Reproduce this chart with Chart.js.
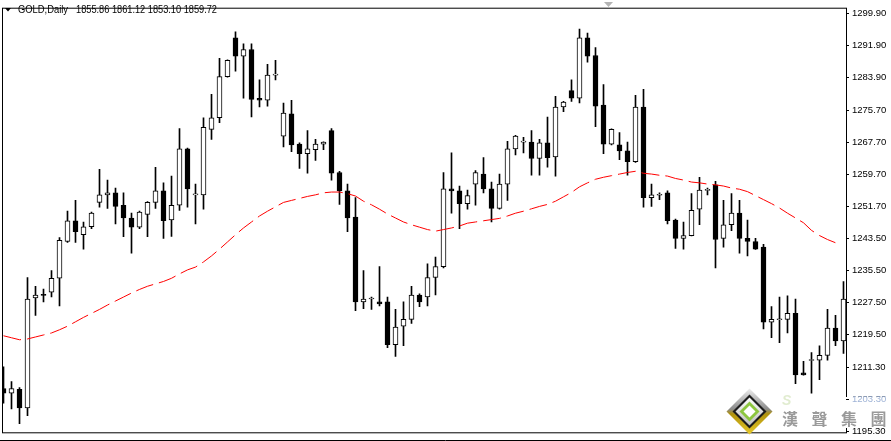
<!DOCTYPE html>
<html>
<head>
<meta charset="utf-8">
<script src="https://cdn.jsdelivr.net/npm/chart.js@4.4.0/dist/chart.umd.min.js"></script>
<style>
  html, body { margin: 0; padding: 0; background: #fff; overflow: hidden; }
  canvas { display: block; }
</style>
</head>
<body>
<canvas id="chart" width="891" height="441"></canvas>
<script>
// -- DATA (GOLD, Daily)
const opens = [
  1206.0,1204.8,1205.8,1201.1,1228.7,1229.5,1230.1,1233.6,1242.8,1248.0,
  1244.5,1246.5,1252.6,1254.5,1255.0,1251.9,1248.7,1246.4,1249.6,1252.6,
  1255.5,1248.2,1251.9,1266.0,1254.5,1254.5,1270.9,1273.8,1284.1,1293.8,
  1289.2,1290.9,1278.7,1278.2,1284.5,1269.2,1274.8,1267.2,1264.8,1265.8,
  1267.2,1270.6,1260.1,1255.5,1248.9,1227.7,1228.4,1227.7,1227.7,1217.0,
  1221.6,1223.3,1229.4,1228.9,1233.8,1236.5,1256.0,1255.5,1252.3,1257.2,
  1259.7,1256.0,1251.1,1257.2,1266.0,1267.7,1267.7,1263.6,1267.5,1264.0,
  1276.5,1280.6,1278.7,1293.8,1289.4,1277.0,1267.2,1267.0,1265.5,1262.8,
  1276.5,1253.8,1254.4,1255.0,1248.2,1243.6,1244.3,1250.9,1255.6,1257.0,
  1243.6,1247.0,1249.9,1243.6,1242.8,1241.4,1222.6,1223.2,1223.3,1224.8,
  1209.9,1213.0,1213.1,1214.3,1221.1,1217.9
];
const highs = [
  1211.4,1207.7,1206.2,1233.8,1231.6,1230.9,1235.5,1243.8,1250.4,1253.1,
  1247.7,1250.2,1260.9,1258.2,1256.2,1255.0,1249.9,1250.4,1252.8,1261.4,
  1257.5,1259.2,1271.1,1266.2,1257.2,1273.8,1279.7,1288.7,1288.3,1295.3,
  1292.3,1292.3,1283.3,1287.2,1288.2,1277.5,1278.2,1267.5,1270.6,1268.4,
  1267.8,1271.1,1260.4,1257.2,1253.8,1235.5,1228.9,1236.5,1228.9,1225.8,
  1227.7,1231.6,1229.7,1237.2,1238.9,1260.1,1265.0,1256.7,1255.7,1260.6,
  1263.8,1257.7,1259.7,1267.9,1269.4,1268.9,1270.6,1268.4,1274.0,1279.2,
  1277.9,1283.3,1296.0,1295.0,1291.4,1282.1,1271.0,1270.1,1267.7,1279.4,
  1280.9,1257.2,1255.0,1255.5,1248.4,1247.7,1254.8,1258.9,1256.2,1257.9,
  1253.1,1254.8,1253.1,1248.2,1243.6,1242.1,1226.5,1228.9,1229.2,1228.4,
  1212.8,1215.0,1216.7,1225.8,1224.3,1232.8
];
const lows = [
  1202.3,1200.9,1197.2,1199.2,1224.3,1227.7,1228.9,1226.7,1242.6,1242.6,
  1240.9,1246.0,1251.4,1251.1,1247.2,1244.0,1239.9,1246.0,1244.0,1251.1,
  1243.6,1244.1,1250.6,1251.4,1247.2,1250.9,1268.4,1272.6,1284.0,1285.5,
  1278.7,1274.0,1276.5,1276.7,1283.3,1266.5,1265.3,1261.1,1259.9,1263.1,
  1265.8,1258.2,1252.1,1245.3,1225.5,1226.0,1225.8,1226.7,1216.2,1214.0,
  1216.7,1222.3,1226.5,1226.7,1229.4,1236.2,1249.9,1246.0,1250.9,1251.9,
  1255.0,1247.7,1250.9,1253.1,1264.5,1265.0,1259.4,1259.4,1261.4,1259.2,
  1275.3,1277.9,1277.5,1287.7,1271.6,1264.8,1267.0,1263.3,1259.4,1262.6,
  1251.4,1251.6,1253.3,1247.2,1241.1,1240.9,1244.2,1247.0,1254.5,1236.2,
  1241.4,1245.5,1239.9,1239.2,1240.8,1220.9,1218.7,1217.5,1219.9,1207.2,
  1209.3,1204.8,1208.2,1213.1,1216.7,1214.8
];
const closes = [
  1204.8,1206.0,1201.1,1228.4,1229.4,1229.3,1233.6,1243.1,1248.0,1245.3,
  1246.5,1249.9,1254.5,1255.0,1251.6,1248.7,1246.4,1250.2,1252.6,1255.5,
  1248.0,1251.9,1266.0,1256.0,1254.6,1271.4,1273.8,1284.1,1288.2,1289.2,
  1290.9,1278.4,1278.2,1284.5,1284.6,1275.0,1267.0,1264.8,1266.0,1267.2,
  1267.7,1259.9,1255.5,1248.7,1227.7,1228.4,1228.5,1227.2,1217.0,1221.4,
  1223.3,1229.4,1227.7,1233.8,1236.5,1256.0,1255.5,1252.3,1254.3,1260.1,
  1256.0,1251.1,1257.2,1266.0,1269.2,1267.8,1263.6,1267.5,1263.8,1276.5,
  1277.7,1278.7,1293.8,1289.2,1276.7,1267.2,1270.9,1265.5,1262.8,1276.5,
  1253.8,1254.5,1254.5,1248.0,1243.6,1244.3,1250.6,1255.7,1255.7,1243.3,
  1247.0,1249.9,1243.6,1242.8,1240.9,1222.6,1223.3,1223.4,1224.8,1209.4,
  1209.4,1213.1,1214.3,1221.1,1217.9,1228.4
];
// moving average (red dashed)
const maValues = [
  1219.2,1218.7,1218.2,1218.4,1218.9,1219.4,1219.9,1220.7,1221.6,1222.7,
  1223.8,1224.8,1225.8,1226.9,1227.9,1228.9,1229.9,1230.8,1231.6,1232.2,
  1232.8,1233.6,1234.7,1235.7,1236.4,1237.7,1239.2,1240.9,1242.7,1244.5,
  1246.2,1247.7,1249.2,1250.4,1251.5,1252.6,1253.1,1253.6,1254.1,1254.5,
  1255.0,1255.2,1255.2,1254.8,1254.2,1252.9,1252.0,1250.9,1249.7,1248.7,
  1247.7,1247.0,1246.4,1245.8,1245.4,1245.8,1246.2,1246.7,1247.4,1247.7,
  1248.0,1248.3,1248.6,1249.2,1249.9,1250.4,1251.0,1251.6,1252.1,1252.9,
  1254.0,1255.1,1256.5,1257.5,1258.4,1258.9,1259.3,1259.7,1260.1,1260.4,
  1259.9,1259.7,1259.4,1259.2,1258.6,1258.2,1257.7,1257.5,1257.2,1257.0,
  1256.7,1256.2,1255.9,1255.3,1254.3,1253.3,1252.3,1251.2,1249.9,1248.7,
  1247.5,1245.6,1244.3,1243.3,1242.5,null
];
const tickValues = [1299.90,1291.90,1283.90,1275.70,1267.70,1259.70,1251.70,
                    1243.50,1235.50,1227.50,1219.50,1211.30,1203.30,1195.30];
const hiddenTick = 1203.30;   // sits under the watermark
const headerName = 'GOLD,Daily';
const headerQuote = '1855.86 1861.12 1853.10 1859.72';
const watermark = ['漢','聲','集','團'];

// -- BUILD DATASETS
const isUp = closes.map((c, i) => c >= opens[i]);
const wickData = highs.map((h, i) => ({ x: i, y: [lows[i], h] }));
const bodyData = opens.map((o, i) => ({ x: i, y: [Math.min(o, closes[i]), Math.max(o, closes[i])] }));
const maData   = maValues.map((v, i) => ({ x: i, y: v }));

// -- DECOR (frame, header, watermark)
function diamond(c, cx, cy, r, fill) {
  c.beginPath();
  c.moveTo(cx, cy - r); c.lineTo(cx + r, cy); c.lineTo(cx, cy + r); c.lineTo(cx - r, cy);
  c.closePath(); c.fillStyle = fill; c.fill();
}

const decor = {
  id: 'decor',
  beforeDraw(chart) {
    const c = chart.ctx;
    c.save(); c.fillStyle = '#fff'; c.fillRect(0, 0, chart.width, chart.height); c.restore();
  },
  afterDraw(chart) {
    const c = chart.ctx, a = chart.chartArea;
    const yS = chart.scales.y;
    c.save();
    // frame
    c.strokeStyle = '#000'; c.lineWidth = 1;
    c.strokeRect(a.left - 0.5, a.top - 0.5, a.right - a.left + 1, a.bottom - a.top + 1);
    c.beginPath(); c.moveTo(0, 440.5); c.lineTo(chart.width, 440.5); c.stroke();

    // header
    c.fillStyle = '#000';
    c.beginPath(); c.moveTo(5, 8); c.lineTo(11, 8); c.lineTo(8, 11.5); c.closePath(); c.fill();
    c.font = '10px "Liberation Sans"'; c.textBaseline = 'middle'; c.textAlign = 'left';
    c.fillText(headerName, 18, 10, 50);
    c.fillText(headerQuote, 76, 10, 141);

    // grey marker on top
    c.fillStyle = '#b4b4b4';
    c.beginPath(); c.moveTo(604, 2); c.lineTo(613, 2); c.lineTo(608.5, 7); c.closePath(); c.fill();

    // watermark box (white) covers the chart corner
    c.fillStyle = '#ffffff';
    c.fillRect(776, 397, chart.width - 776, 31);
    // faint label under the watermark
    const ty = yS.getPixelForValue(hiddenTick);
    c.strokeStyle = '#000';
    c.beginPath(); c.moveTo(846, Math.round(ty) + 0.5); c.lineTo(849, Math.round(ty) + 0.5); c.stroke();
    c.fillStyle = '#9fb3d6';
    c.font = '9.5px "Liberation Sans"';
    c.fillText(hiddenTick.toFixed(2), 852, ty);

    // logo
    const cx = 749.5, cy = 411.5;
    const g = c.createLinearGradient(0, cy - 23, 0, cy + 23);
    g.addColorStop(0, '#eeeeee'); g.addColorStop(0.45, '#8a8a8a');
    g.addColorStop(0.55, '#b0920c'); g.addColorStop(1, '#e6c82a');
    diamond(c, cx, cy, 23, g);
    diamond(c, cx, cy, 17, '#1c1c1c');
    const g2 = c.createLinearGradient(0, cy - 14, 0, cy + 14);
    g2.addColorStop(0, '#ffffff'); g2.addColorStop(1, '#bdbdbd');
    diamond(c, cx, cy, 14, g2);
    diamond(c, cx, cy, 10, '#8dc63f');
    diamond(c, cx, cy, 6, '#ffffff');

    // watermark text
    c.fillStyle = 'rgba(170,200,120,0.35)';
    c.font = 'italic bold 14px "Liberation Sans"';
    c.fillText('S', 782, 401);
    c.fillStyle = '#9a9a9a';
    c.font = 'bold 16px "Noto Sans CJK TC"';
    watermark.forEach((ch, i) => c.fillText(ch, 782 + i * 29.5, 419));
    c.restore();
  }
};

// -- CHART
Chart.defaults.font.family = '"Liberation Sans", Arial, sans-serif';

new Chart(document.getElementById('chart').getContext('2d'), {
  type: 'bar',
  data: {
    datasets: [
      {
        type: 'line', data: maData, order: 0,
        borderColor: '#ff0000', borderWidth: 1, borderDash: [18, 6],
        pointRadius: 0, tension: 0, fill: false
      },
      {
        data: bodyData, order: 1, grouped: false,
        barThickness: 5, minBarLength: 1,
        backgroundColor: isUp.map(u => u ? '#ffffff' : '#000000'),
        borderColor: '#000000', borderWidth: 1, borderSkipped: false
      },
      {
        data: wickData, order: 2, grouped: false,
        barThickness: 1, backgroundColor: '#000000', borderWidth: 0
      }
    ]
  },
  options: {
    responsive: false, devicePixelRatio: 1, animation: false,
    layout: { padding: { left: 3, top: 2, right: 0, bottom: 4 } },
    plugins: { legend: { display: false }, tooltip: { enabled: false } },
    scales: {
      x: { type: 'linear', display: false, offset: false, min: -0.0625, max: 105.3125 },
      y: {
        position: 'right', min: 1195.02, max: 1301.12,
        afterFit: s => { s.width = 45; },
        afterBuildTicks: s => { s.ticks = tickValues.map(v => ({ value: v })); },
        grid: { drawOnChartArea: false, tickLength: 3, color: '#000' },
        border: { display: false },
        ticks: {
          autoSkip: false, padding: 3, font: { size: 9.5 },
          color: '#000',
          callback: v => Number(v).toFixed(2)
        }
      }
    }
  },
  plugins: [decor]
});
</script>
</body>
</html>
